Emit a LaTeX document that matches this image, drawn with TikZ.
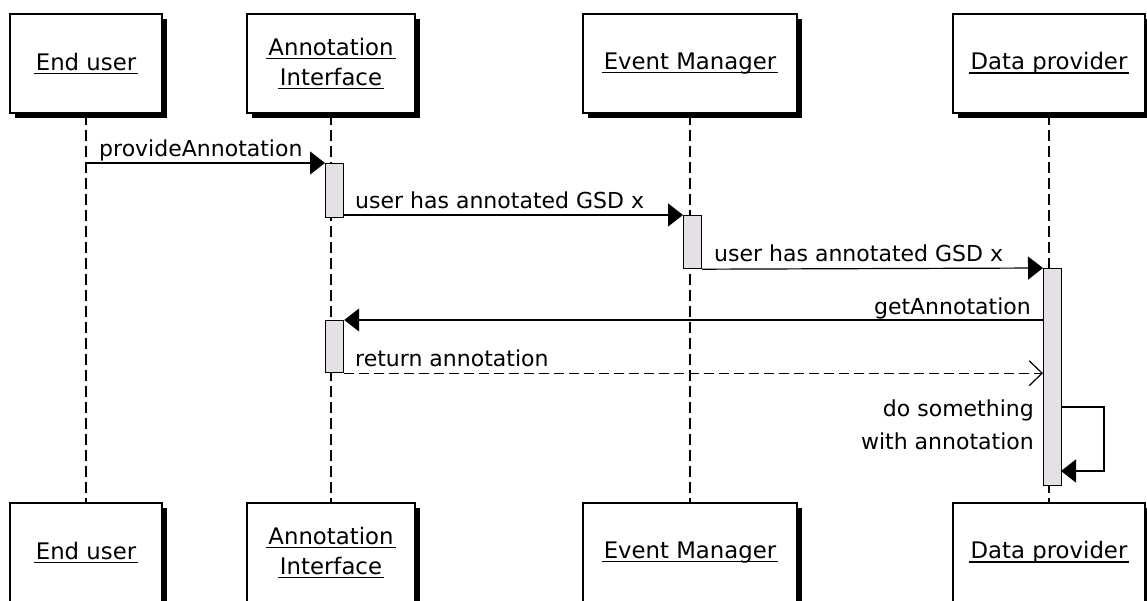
\documentclass[tikz,border=0pt]{standalone}
\usepackage{fontspec}
\setmainfont{DejaVu Sans}
\usetikzlibrary{arrows.meta,shadows}
\definecolor{barfill}{RGB}{228,224,230}
% underline that runs just under the baseline, a little wider than the word
\newcommand\ulname[1]{\setbox0=\hbox{#1}\dimen0=\wd0 \advance\dimen0 by 4pt\rlap{\kern-2pt\vrule height -2.4pt depth 4pt width \dimen0}\box0}
\begin{document}
\begin{tikzpicture}[x=1pt,y=-1pt,
  actor/.style={draw=black, line width=1.3pt, fill=white, minimum height=99pt,
    inner sep=0pt, align=center, font=\fontsize{22.8}{30}\selectfont,
    drop shadow={fill=black, opacity=1, shadow xshift=5pt, shadow yshift=-5pt}},
  lifeline/.style={line width=1.4pt, dash pattern=on 11pt off 5pt},
  actbar/.style={draw=black, line width=1.2pt, fill=barfill, minimum width=18pt,
    inner sep=0pt, anchor=north west},
  msg/.style={line width=1.2pt, -{Triangle[length=15pt,width=23pt]}},
  reply/.style={line width=1.2pt, dash pattern=on 10pt off 5pt,
    -{Straight Barb[length=13pt,width=25pt,line width=1.2pt]}},
  lbl/.style={inner sep=0pt, font=\fontsize{22}{33}\selectfont}]
\useasboundingbox (0,0) rectangle (1147,601);

% participants, top row
\node[actor, minimum width=152pt] (eut) at (86,63.5)   {\ulname{End user}};
\node[actor, minimum width=168pt] (ait) at (331,63.5)  {\ulname{Annotation}\\\ulname{Interface}};
\node[actor, minimum width=214pt] (emt) at (690,63.5)  {\ulname{Event Manager}};
\node[actor, minimum width=192pt] (dpt) at (1049,63.5) {\ulname{Data provider}};

% participants, bottom row
\node[actor, minimum width=152pt] (eub) at (86,552.5)   {\ulname{End user}};
\node[actor, minimum width=168pt] (aib) at (331,552.5)  {\ulname{Annotation}\\\ulname{Interface}};
\node[actor, minimum width=214pt] (emb) at (690,552.5)  {\ulname{Event Manager}};
\node[actor, minimum width=192pt] (dpb) at (1049,552.5) {\ulname{Data provider}};

% lifelines
\draw[lifeline] (eut.south) -- (eub.north);
\draw[lifeline] (ait.south) -- (aib.north);
\draw[lifeline] (emt.south) -- (emb.north);
\draw[lifeline] (dpt.south) -- (dpb.north);

% activation bars
\node[actbar, minimum height=54pt]  (aiA) at (325,163) {};
\node[actbar, minimum height=53pt]  (emA) at (683,215) {};
\node[actbar, minimum height=217pt] (dpA) at (1043,268) {};
\node[actbar, minimum height=52pt]  (aiB) at (325,320) {};

% messages
\draw[msg] (eut.south |- aiA.north) -- (aiA.north west);
\node[lbl, anchor=base west] (m1) at (99,157) {provideAnnotation};

\draw[msg] (aiA.east |- emA.north) -- (emA.north west);
\node[lbl, anchor=base west] (m2) at (355,209) {user has annotated GSD x};

\draw[msg] (emA.south east) -- (dpA.north west);
\node[lbl, anchor=base west] (m3) at (714,262) {user has annotated GSD x};

\draw[msg] (dpA.west |- aiB.north) -- (aiB.north east);
\node[lbl, anchor=base east] (m4) at (1031,314) {getAnnotation};

\draw[reply] (aiB.south east) -- (dpA.west |- aiB.south);
\node[lbl, anchor=base west] (m5) at (355,366) {return annotation};

% self call on the data provider
\coordinate (selfout) at (1061,407);
\coordinate (selfback) at (1061,471);
\coordinate (selfcorner) at (1104,407);
\draw[msg] (selfout) -- (selfcorner) |- (selfback);
\node[lbl, anchor=north east, align=right] (m6) at (1034,400) {do something\\with annotation};
\end{tikzpicture}
\end{document}
